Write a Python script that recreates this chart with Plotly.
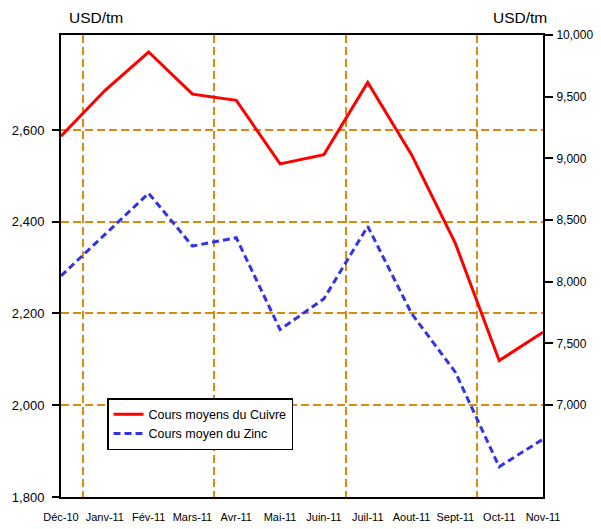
import plotly.graph_objects as go

months = ["Déc-10", "Janv-11", "Fév-11", "Mars-11", "Avr-11", "Mai-11",
          "Juin-11", "Juil-11", "Aout-11", "Sept-11", "Oct-11", "Nov-11"]
cuivre = [9180, 9550, 9862, 9520, 9470, 8955, 9030, 9615, 9030, 8310, 7360, 7590]
zinc = [2282, 2372, 2462, 2347, 2365, 2165, 2232, 2390, 2200, 2072, 1866, 1926]
left_ticks = [1800, 2000, 2200, 2400, 2600]
right_ticks = [7000, 7500, 8000, 8500, 9000, 9500, 10000]

x = list(range(len(months)))
font = "Liberation Sans, Arial, sans-serif"
grid_color = "#D98A10"

OFF = 8  # page body margin
W, H = 601 - OFF, 529 - OFF
L, T = 61 - OFF, 35 - OFF
PW, PH = 482, 462
R, B = W - L - PW, H - T - PH

fig = go.Figure()
fig.add_trace(go.Scatter(x=x, y=cuivre, name="Cours moyens du Cuivre", yaxis="y2",
                         mode="lines", line=dict(color="#FF0000", width=3)))
fig.add_trace(go.Scatter(x=x, y=zinc, name="Cours moyen du Zinc", yaxis="y",
                         mode="lines", line=dict(color="#3333E6", width=3, dash="7px,4px")))

fig.update_layout(
    width=W, height=H,
    margin=dict(l=L, r=R, t=T, b=B, autoexpand=False),
    paper_bgcolor="white", plot_bgcolor="white",
    font=dict(family=font, color="black"),
    showlegend=True,
    legend=dict(x=(107 - 61) / PW, y=(497 - 398) / PH, xanchor="left", yanchor="top",
                bgcolor="white", bordercolor="black", borderwidth=1.5,
                font=dict(size=12.5, family=font), tracegroupgap=0,
                itemwidth=30),
    xaxis=dict(range=[0, 11], tickvals=x, ticktext=months, showgrid=False,
               ticks="", tickfont=dict(size=11), ticklabelstandoff=9, tickangle=0,
               automargin=False,
               showline=True, linecolor="black", linewidth=2, mirror=True,
               zeroline=False,
               minor=dict(tick0=0.5, dtick=3, showgrid=True, gridcolor=grid_color,
                          griddash="8px,4px", gridwidth=1.5, ticks="")),
    yaxis=dict(range=[1800, 2807], tickvals=left_ticks, automargin=False,
               tickformat=",d", tickfont=dict(size=13), ticklabelstandoff=5,
               showgrid=True, gridcolor=grid_color, griddash="8px,4px", gridwidth=1.5,
               ticks="outside", ticklen=7, tickwidth=2, tickcolor="black",
               showline=True, linecolor="black", linewidth=2, zeroline=False),
    yaxis2=dict(range=[6254, 10000], tickvals=right_ticks, overlaying="y", side="right",
                automargin=False, ticklabelstandoff=1,
                tickformat=",d", tickfont=dict(size=12), showgrid=False,
                ticks="outside", ticklen=8, tickwidth=2, tickcolor="black",
                showline=True, linecolor="black", linewidth=2, zeroline=False),
)
fig.add_annotation(text="USD/tm", xref="paper", yref="paper", x=(96 - 61) / PW,
                   y=1 + (35 - 17) / PH, xanchor="center", yanchor="middle",
                   showarrow=False, font=dict(size=15.5))
fig.add_annotation(text="USD/tm", xref="paper", yref="paper", x=(520 - 61) / PW,
                   y=1 + (35 - 17) / PH, xanchor="center", yanchor="middle",
                   showarrow=False, font=dict(size=15.5))

fig.write_html("out.html")
